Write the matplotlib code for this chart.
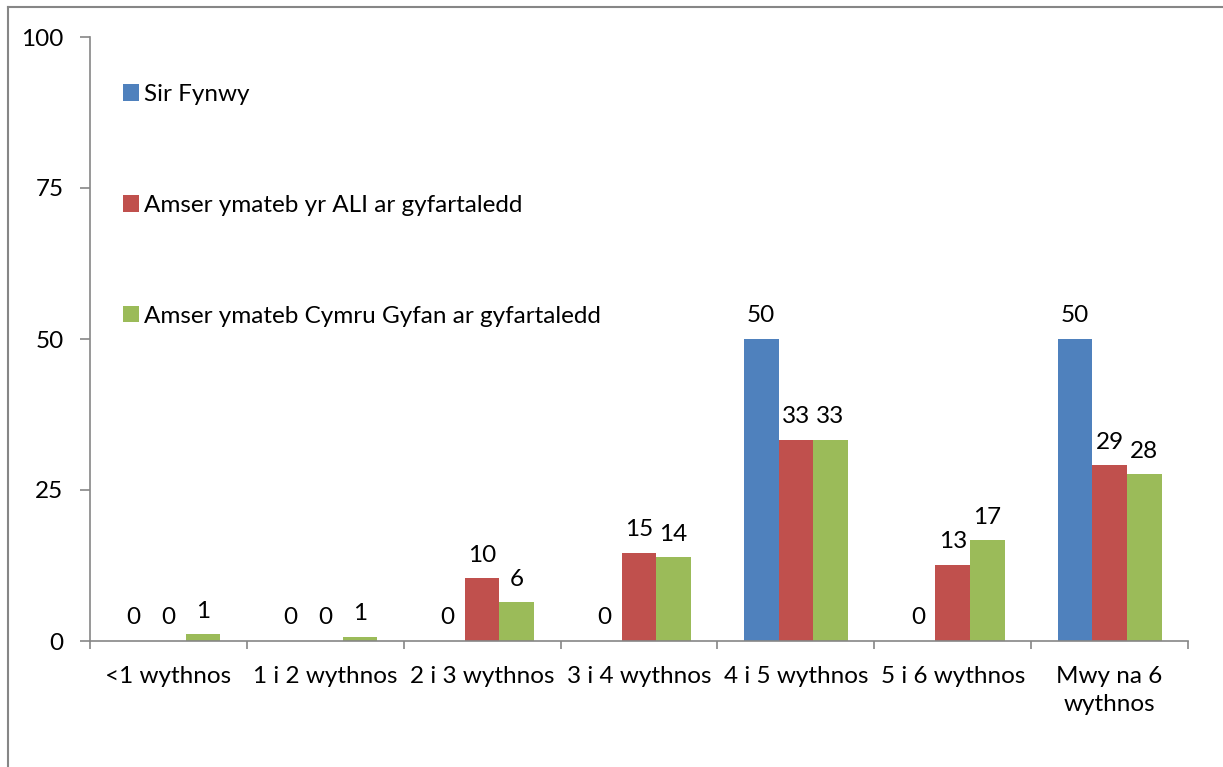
import matplotlib
matplotlib.use('Agg')
import matplotlib.pyplot as plt
from matplotlib.lines import Line2D
import numpy as np

plt.rcParams['font.family'] = ['Lato', 'DejaVu Sans']

categories = ['<1 wythnos', '1 i 2 wythnos', '2 i 3 wythnos', '3 i 4 wythnos',
              '4 i 5 wythnos', '5 i 6 wythnos', 'Mwy na 6\nwythnos']
series_names = ['Sir Fynwy',
                'Amser ymateb yr ALI ar gyfartaledd',
                'Amser ymateb Cymru Gyfan ar gyfartaledd']
sir_fynwy = [0, 0, 0, 0, 50, 0, 50]
ali_avg = [0, 0, 10.4, 14.6, 33.3, 12.6, 29.1]
cymru_avg = [1.1, 0.7, 6.4, 13.9, 33.3, 16.7, 27.6]
colors = ['#4F81BD', '#C0504D', '#9BBB59']
yticks = [0, 25, 50, 75, 100]

fs = 17.5
grey = '#868686'

fig = plt.figure(figsize=(12.23, 7.67), dpi=100)
ax = fig.add_axes([90 / 1223, 1 - 641 / 767, (1188 - 90) / 1223, (641 - 37) / 767])

x = np.arange(len(categories))
w = 0.221
for k, (vals, name, c) in enumerate(zip([sir_fynwy, ali_avg, cymru_avg], series_names, colors)):
    bars = ax.bar(x + (k - 1) * w, vals, w, color=c, label=name, edgecolor='none')
    for b, v in zip(bars, vals):
        ax.annotate(f'{v:.0f}', (b.get_x() + b.get_width() / 2, v),
                    xytext=(0, 9), textcoords='offset points',
                    ha='center', va='bottom', fontsize=fs)

ax.set_xlim(-0.5, len(categories) - 0.5)
ax.set_ylim(0, 100)
ax.set_yticks(yticks)
ax.set_xticks(x)
ax.set_xticklabels(categories, fontsize=fs, linespacing=1.4)
ax.set_xticks(np.arange(-0.5, len(categories)), minor=True)
ax.tick_params(axis='x', which='major', length=0, pad=18)
ax.tick_params(axis='x', which='minor', length=6, color=grey, width=1.2)
ax.tick_params(axis='y', length=7, color=grey, width=1.2, pad=12, labelsize=fs)

for s in ['top', 'right']:
    ax.spines[s].set_visible(False)
for s in ['left', 'bottom']:
    ax.spines[s].set_color(grey)
    ax.spines[s].set_linewidth(1.2)

leg = ax.legend(loc='upper left', bbox_to_anchor=(0.021, 0.938), frameon=False,
                fontsize=fs, handlelength=0.66, handleheight=0.66,
                handletextpad=0.22, labelspacing=3.69, borderaxespad=0)

# outer chart border (only top and left are visible)
fig.add_artist(Line2D([8 / 1223, 8 / 1223], [0, 1 - 7 / 767], color=grey, lw=1.5))
fig.add_artist(Line2D([8 / 1223, 1], [1 - 7 / 767, 1 - 7 / 767], color=grey, lw=1.5))

fig.savefig('out.png', dpi=100)
